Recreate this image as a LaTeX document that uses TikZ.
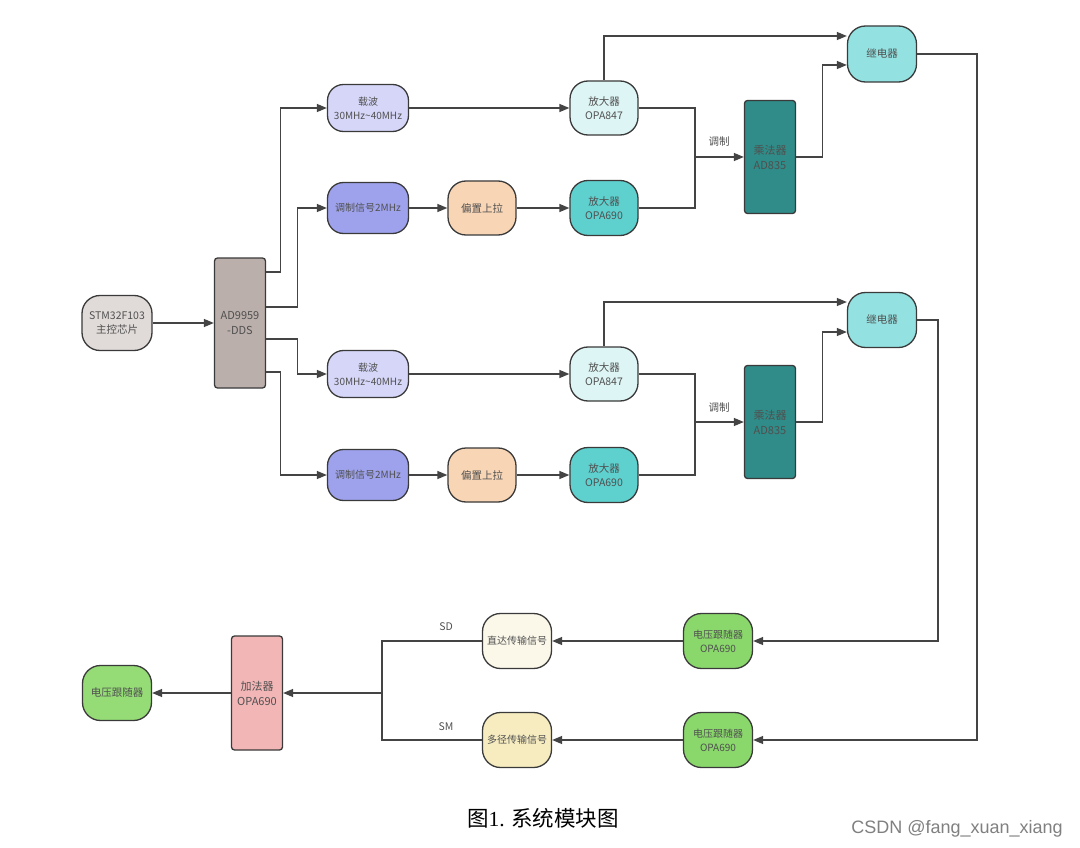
\documentclass[tikz,border=0pt]{standalone}
\usepackage{fontspec}
\setmainfont{Noto Sans CJK SC}
\newfontfamily\cjk{Noto Sans CJK SC}
\newfontfamily\wm{Liberation Sans}
\newfontfamily\capserif{Liberation Serif}
\usetikzlibrary{arrows.meta}
\definecolor{cstm}{HTML}{E0DBD9}
\definecolor{cad}{HTML}{BAAFAB}
\definecolor{ccar}{HTML}{D5D6F8}
\definecolor{cmod}{HTML}{9EA2EC}
\definecolor{cbias}{HTML}{F8D5B5}
\definecolor{cpa}{HTML}{DDF5F4}
\definecolor{cpb}{HTML}{5ED0CE}
\definecolor{cmul}{HTML}{2F8C88}
\definecolor{crel}{HTML}{93E1E1}
\definecolor{cfol}{HTML}{8AD86C}
\definecolor{cdir}{HTML}{FBF8E9}
\definecolor{cmp}{HTML}{F6ECC0}
\definecolor{cadd}{HTML}{F3B6B6}
\definecolor{cfin}{HTML}{95DC76}
\definecolor{txt}{HTML}{505050}
\definecolor{edge}{HTML}{3A3A3A}
\definecolor{ln}{HTML}{444444}
\tikzset{
  pill/.style={draw=edge, line width=1.3pt, rounded corners=18pt, minimum width=69pt, minimum height=55pt, align=center, inner sep=2pt, text=txt, font=\cjk\fontsize{10.5}{14}\selectfont},
  blk/.style={draw=edge, line width=1.3pt, rounded corners=3pt, minimum width=51pt, align=center, inner sep=2pt, text=txt, font=\cjk\fontsize{11}{15}\selectfont},
  conn/.style={draw=ln, line width=1.3pt},
  arr/.style={conn, -{Triangle[length=10pt,width=8pt]}},
  lbl/.style={text=txt, font=\cjk\fontsize{10.5}{14}\selectfont}
}
\begin{document}
\begin{tikzpicture}[x=1pt,y=-1pt]
\useasboundingbox[fill=white] (0,0) rectangle (1080,848);
% nodes
\node[pill, fill=cstm, minimum width=70pt] (stm) at (117,323) {STM32F103\\主控芯片};
\node[blk, fill=cad, minimum height=130pt] (ad) at (240,323) {AD9959\\-DDS};
% upper branch
\node[pill, fill=ccar, minimum width=81pt, minimum height=47pt, rounded corners=16pt, font=\cjk\fontsize{10}{14}\selectfont] (c1) at (368,108) {载波\\30MHz\textasciitilde 40MHz};
\node[pill, fill=cmod, minimum width=81pt, minimum height=51pt, rounded corners=16pt, font=\cjk\fontsize{10}{14}\selectfont] (m1) at (368,208) {调制信号2MHz};
\node[pill, fill=cbias, minimum width=68pt, minimum height=54pt] (p1) at (482,208) {偏置上拉};
\node[pill, fill=cpa, minimum width=68pt, minimum height=54pt] (a1) at (604,108) {放大器\\OPA847};
\node[pill, fill=cpb, minimum width=68pt, minimum height=55pt] (b1) at (604,208) {放大器\\OPA690};
\node[blk, fill=cmul, minimum height=113pt] (x1) at (770,157) {乘法器\\AD835};
\node[pill, fill=crel, minimum width=69pt, minimum height=56pt] (r1) at (882,54) {继电器};
% lower branch
\node[pill, fill=ccar, minimum width=81pt, minimum height=47pt, rounded corners=16pt, font=\cjk\fontsize{10}{14}\selectfont] (c2) at (368,374) {载波\\30MHz\textasciitilde 40MHz};
\node[pill, fill=cmod, minimum width=81pt, minimum height=51pt, rounded corners=16pt, font=\cjk\fontsize{10}{14}\selectfont] (m2) at (368,475) {调制信号2MHz};
\node[pill, fill=cbias, minimum width=68pt, minimum height=54pt] (p2) at (482,475) {偏置上拉};
\node[pill, fill=cpa, minimum width=68pt, minimum height=54pt] (a2) at (604,374) {放大器\\OPA847};
\node[pill, fill=cpb, minimum width=68pt, minimum height=55pt] (b2) at (604,475) {放大器\\OPA690};
\node[blk, fill=cmul, minimum height=113pt] (x2) at (770,422) {乘法器\\AD835};
\node[pill, fill=crel, minimum width=69pt, minimum height=55pt] (r2) at (882,320) {继电器};
% receiver
\node[pill, fill=cfol, font=\cjk\fontsize{10}{14}\selectfont] (f1) at (718,641) {电压跟随器\\OPA690};
\node[pill, fill=cfol, font=\cjk\fontsize{10}{14}\selectfont] (f2) at (718,740) {电压跟随器\\OPA690};
\node[pill, fill=cdir, font=\cjk\fontsize{10}{14}\selectfont] (d1) at (517,641) {直达传输信号};
\node[pill, fill=cmp, font=\cjk\fontsize{10}{14}\selectfont] (d2) at (517,740) {多径传输信号};
\node[blk, fill=cadd, minimum height=114pt] (add) at (257,693) {加法器\\OPA690};
\node[pill, fill=cfin] (vf) at (117,693) {电压跟随器};
% junction coordinates
\coordinate (j1) at (695,157);
\coordinate (j2) at (695,422);
\coordinate (j3) at (382,693);
\coordinate (k1) at (977,740);
\coordinate (k2) at (938,641);
% connectors
\draw[arr] (stm) -- (ad);
\draw[arr] ([yshift=51pt]ad.east) -- ++(14,0) |- (c1.west);
\draw[arr] ([yshift=16pt]ad.east) -- ++(31,0) |- (m1.west);
\draw[arr] ([yshift=-16pt]ad.east) -- ++(31,0) |- (c2.west);
\draw[arr] ([yshift=-49pt]ad.east) -- ++(14,0) |- (m2.west);
\draw[arr] (c1) -- (a1);
\draw[arr] (m1) -- (p1);
\draw[arr] (p1) -- (b1);
\draw[arr] (c2) -- (a2);
\draw[arr] (m2) -- (p2);
\draw[arr] (p2) -- (b2);
\draw[arr] (a1.north) |- ([yshift=18pt]r1.west);
\draw[arr] (a2.north) |- ([yshift=18pt]r2.west);
\draw[conn] (a1.east) -| (j1);
\draw[conn] (b1.east) -| (j1);
\draw[arr] (j1) -- (x1.west);
\draw[conn] (a2.east) -| (j2);
\draw[conn] (b2.east) -| (j2);
\draw[arr] (j2) -- (x2.west);
\node[lbl] (t1) at (719,142) {调制};
\node[lbl] (t2) at (719,408) {调制};
\draw[arr] (x1.east) -- ++(26,0) |- ([yshift=-11pt]r1.west);
\draw[arr] (x2.east) -- ++(26,0) |- ([yshift=-12pt]r2.west);
\draw[arr] (r1.east) -| (k1) -- (f2.east);
\draw[arr] (r2.east) -| (k2) -- (f1.east);
\draw[arr] (f1) -- (d1);
\draw[arr] (f2) -- (d2);
\draw[conn] (d1.west) -| (j3);
\draw[conn] (d2.west) -| (j3);
\draw[arr] (j3) -- (add.east);
\draw[arr] (add) -- (vf);
\node[lbl] (sd) at (446,627) {SD};
\node[lbl] (sm) at (446,727) {SM};
% caption
\node[text=black, font=\cjk\fontsize{21.5}{26}\selectfont] (cap) at (543,818) {图{\capserif 1.} 系统模块图};
\node[text=gray, font=\wm\fontsize{18}{22}\selectfont] (wmk) at (957,829) {CSDN @fang\_xuan\_xiang};
\end{tikzpicture}
\end{document}
